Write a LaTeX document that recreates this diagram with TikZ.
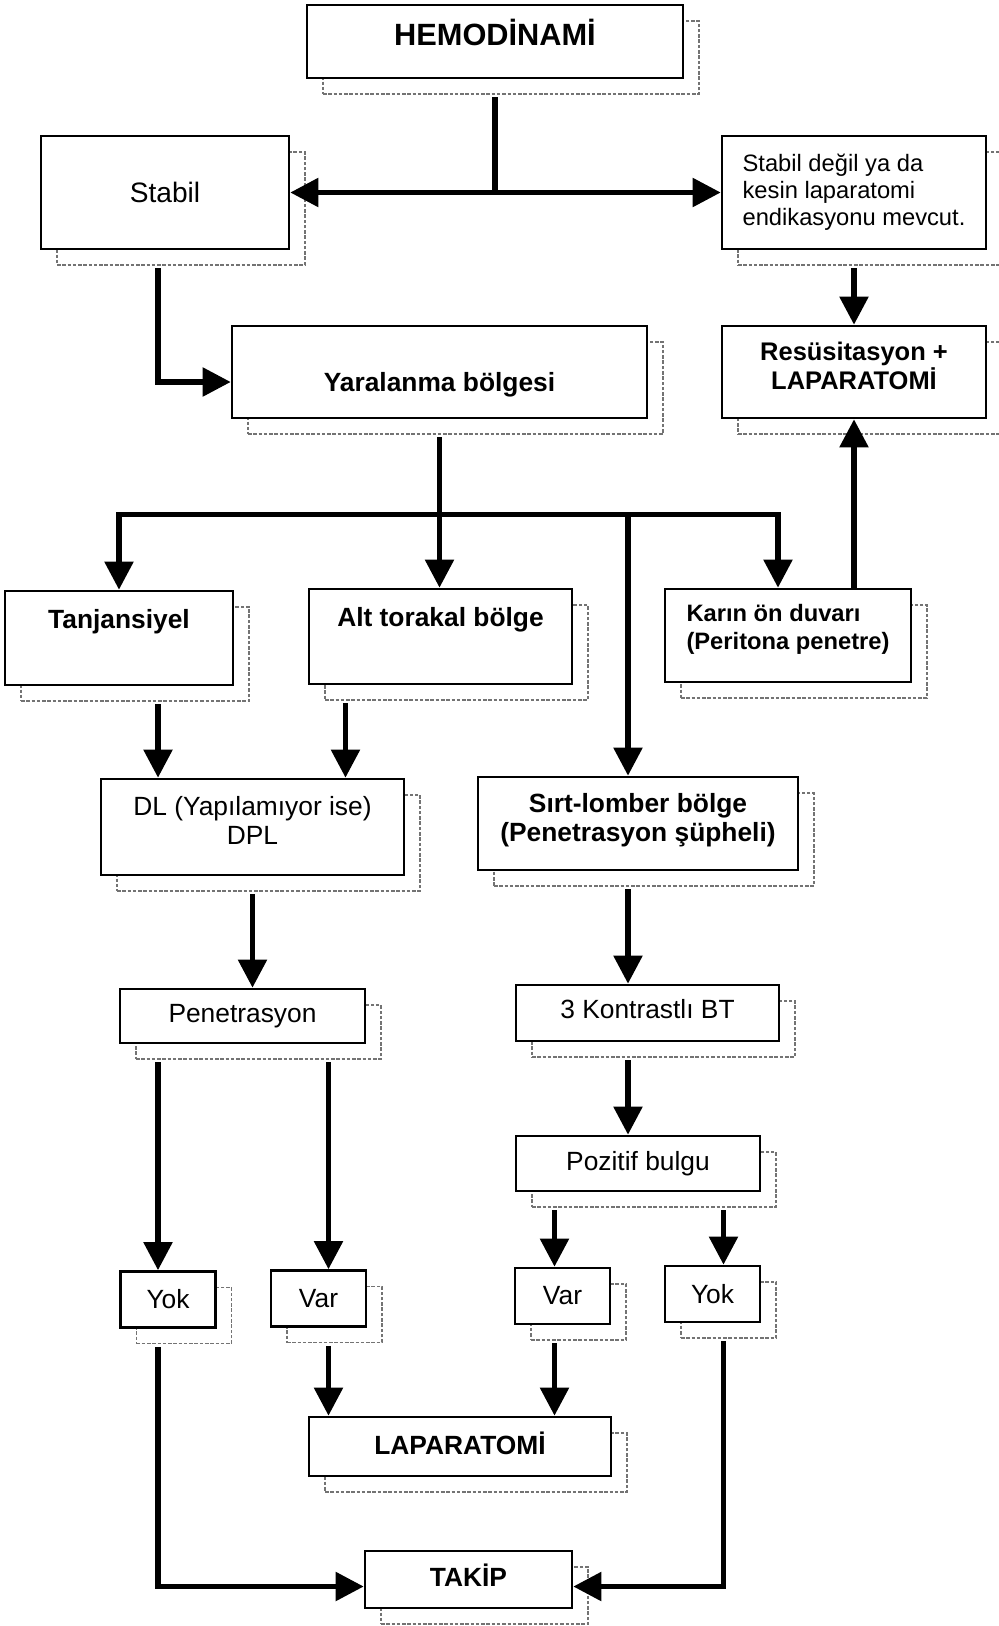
\documentclass[tikz,border=0pt]{standalone}
\usepackage{fontspec}
\setmainfont{Liberation Sans}
\usepackage{tikz}
\usetikzlibrary{positioning,arrows.meta,shadows}
\tikzset{
  mainbox/.style={rectangle, draw, line width=1.5pt, fill=white, inner sep=0pt, align=center,
                  font=\fontsize{15}{16.5}\selectfont,
                  general shadow={shadow xshift=0.32cm, shadow yshift=-0.32cm, draw=black!55,
                                  line width=0.8pt, dash pattern=on 2pt off 1pt, fill=white}},
  boldbox/.style={mainbox, font=\fontsize{15}{16.5}\selectfont\bfseries},
  smallbox/.style={mainbox, minimum width=1.9cm, minimum height=1.12cm},
  topline/.style={text height=11pt, text depth=22pt}, % text sits in upper half
  lift/.style={text depth=#1},
  fwd/.style={line width=3pt, -{Triangle[length=16pt,width=16pt]}},
  both/.style={line width=3pt, {Triangle[length=16pt,width=16pt]}-{Triangle[length=16pt,width=16pt]}},
  link/.style={line width=3pt},
  gap/.style={shorten <=0.36cm},
}

\begin{document}
\begin{tikzpicture}[x=0.02cm, y=-0.02cm]
  \useasboundingbox (0,0) rectangle (999,1626);

  \node[boldbox, minimum width=7.52cm, minimum height=1.46cm, font=\fontsize{17.5}{20}\selectfont\bfseries,
        text height=13pt, text depth=8pt] (hemo) at (495,41.5) {HEMOD\.INAM\.I};
  \node[mainbox, minimum width=4.96cm, minimum height=2.26cm, font=\fontsize{16}{18}\selectfont] (stabil) at (165,192.5) {Stabil};
  \node[mainbox, minimum width=5.28cm, minimum height=2.26cm, align=left, font=\fontsize{13.5}{15.3}\selectfont]
        (degil) at (854,192.5) {Stabil değil ya da\\kesin laparatomi\\endikasyonu mevcut.};
  \node[boldbox, minimum width=8.3cm, minimum height=1.84cm, text height=22pt, text depth=0pt] (yara) at (439.5,372) {Yaralanma bölgesi};
  \node[boldbox, lift=7pt, minimum width=5.28cm, minimum height=1.84cm, font=\fontsize{14.5}{16.5}\selectfont\bfseries]
        (resus) at (854,372) {Resüsitasyon +\\LAPARATOM\.I};

  \node[boldbox, topline, minimum width=4.56cm, minimum height=1.88cm] (tanj) at (119,638) {Tanjansiyel};
  \node[boldbox, topline, minimum width=5.26cm, minimum height=1.9cm] (alt) at (440.5,636.5) {Alt torakal bölge};
  \node[boldbox, lift=10pt, minimum width=4.92cm, minimum height=1.86cm, align=left, font=\fontsize{13.5}{16}\selectfont\bfseries]
        (karin) at (788,635.5) {Karın ön duvarı\\(Peritona penetre)};

  \node[mainbox, lift=8pt, minimum width=6.06cm, minimum height=1.92cm] (dl) at (252.5,827) {DL (Yapılamıyor ise)\\DPL};
  \node[boldbox, lift=6.8pt, minimum width=6.4cm, minimum height=1.86cm] (sirt) at (638,823.5) {Sırt-lomber bölge\\(Penetrasyon şüpheli)};

  \node[mainbox, minimum width=4.9cm, minimum height=1.08cm] (pen) at (242.5,1016) {Penetrasyon};
  \node[mainbox, lift=4.8pt, minimum width=5.26cm, minimum height=1.12cm] (bt) at (647.5,1013) {3 Kontrastlı BT};
  \node[mainbox, minimum width=4.88cm, minimum height=1.1cm] (poz) at (638,1163.5) {Pozitif bulgu};

  \node[smallbox] (yok1) at (168,1299.5) {Yok};
  \node[smallbox] (var1) at (318.5,1298.5) {Var};
  \node[smallbox] (var2) at (562.5,1296) {Var};
  \node[smallbox] (yok2) at (712.5,1294) {Yok};

  \node[boldbox, lift=3.6pt, minimum width=6.04cm, minimum height=1.18cm] (lap) at (460,1446.5) {LAPARATOM\.I};
  \node[boldbox, lift=4.8pt, minimum width=4.14cm, minimum height=1.14cm] (takip) at (468.5,1579.5) {TAK\.IP};

  \coordinate (bar) at ([yshift=-1.91cm]yara.south);
  \coordinate (kin) at ([xshift=-0.2cm]karin.north);
  \coordinate (sin) at ([xshift=-0.2cm]sirt.north);
  \coordinate (dlin1) at ([xshift=-1.89cm]dl.north);
  \coordinate (dlin2) at ([xshift=1.86cm]dl.north);
  \coordinate (yokin1) at ([xshift=-0.2cm]yok1.north);
  \coordinate (varin1) at ([xshift=0.2cm]var1.north);
  \coordinate (varin2) at ([xshift=-0.16cm]var2.north);
  \coordinate (yokin2) at ([xshift=0.22cm]yok2.north);
  \coordinate (tin1) at ([yshift=-0.14cm]takip.west);
  \coordinate (tin2) at ([yshift=-0.14cm]takip.east);

  \draw[link, gap] (hemo.south) -- (hemo.south |- stabil.east);
  \draw[both] (stabil.east) -- (degil.west);
  \draw[fwd, gap] ([xshift=-0.14cm]stabil.south) |- ([yshift=-0.2cm]yara.west);
  \draw[fwd, gap] (degil.south) -- (resus.north);
  \draw[fwd] (karin.north -| resus.south) -- (resus.south);

  \draw[fwd, gap] (yara.south) -- (yara.south |- alt.north);
  \draw[both] (tanj.north) |- (bar -| kin) -- (kin);
  \draw[fwd] (bar -| sin) -- (sin);

  \draw[fwd, gap] (tanj.south -| dlin1) -- (dlin1);
  \draw[fwd, gap] (alt.south -| dlin2) -- (dlin2);
  \draw[fwd, gap] (dl.south) -- (dl.south |- pen.north);
  \draw[fwd, gap] (sirt.south -| sin) -- (bt.north -| sin);
  \draw[fwd, gap] (bt.south -| sin) -- (poz.north -| sin);

  \draw[fwd, gap] (pen.south -| yokin1) -- (yokin1);
  \draw[fwd, gap] (pen.south -| varin1) -- (varin1);
  \draw[fwd, gap] (poz.south -| varin2) -- (varin2);
  \draw[fwd, gap] (poz.south -| yokin2) -- (yokin2);

  \draw[fwd, gap] (var1.south -| varin1) -- (lap.north -| varin1);
  \draw[fwd, gap] (var2.south -| varin2) -- (lap.north -| varin2);
  \draw[fwd, gap] (yok1.south -| yokin1) |- (tin1);
  \draw[fwd, gap] (yok2.south -| yokin2) |- (tin2);
\end{tikzpicture}
\end{document}
